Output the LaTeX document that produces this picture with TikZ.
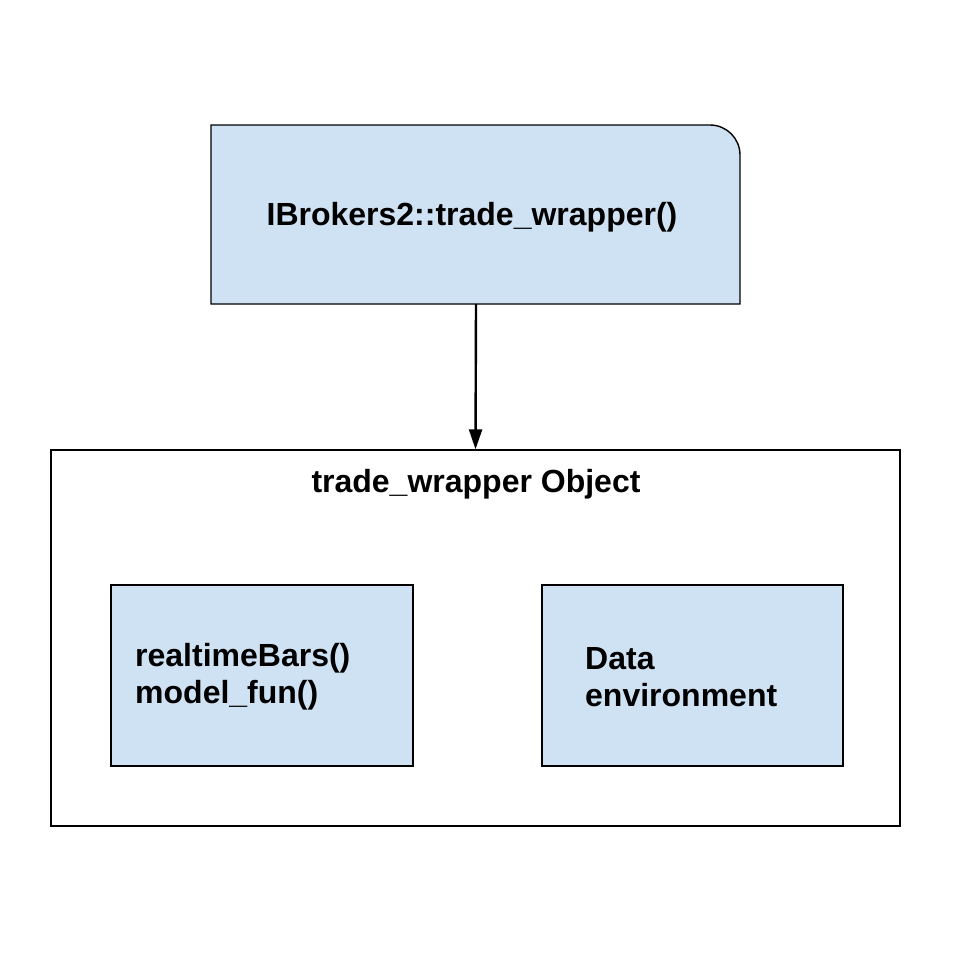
\documentclass[tikz,border=0pt]{standalone}
\usepackage{fontspec}
\setmainfont{Liberation Sans}
\usetikzlibrary{arrows.meta}
\definecolor{boxblue}{HTML}{CFE2F3}
\begin{document}
\begin{tikzpicture}[x=1pt,y=-1pt,
  lbl/.style={font=\fontsize{32}{37}\selectfont\bfseries, inner sep=0pt},
  bluebox/.style={draw=black, line width=1.4pt, fill=boxblue},
  outerbox/.style={draw=black, line width=1.4pt, fill=white},
  conn/.style={draw=black, line width=2.4pt, -{Triangle[length=20pt,width=13pt]}}]
\useasboundingbox (0,0) rectangle (964,967);
% top box with one rounded corner
\draw[bluebox] (211,125) -- (710,125) .. controls (726.57,125) and (740,138.43) .. (740,155) -- (740,304) -- (211,304) -- cycle;
\node[lbl] (top) at (472,217) {IBrokers2::trade\_wrapper()};
\coordinate (topbot) at (476,304);
% outer box
\node[outerbox, minimum width=849pt, minimum height=376pt, inner sep=0pt] (outer) at (475.5,638) {};
\node[lbl] (title) at (476,484) {trade\_wrapper Object};
\draw[conn] (topbot) -- (outer.north);
% inner boxes
\node[bluebox, minimum width=302pt, minimum height=181pt, inner sep=0pt] (left) at (262,675.5) {};
\node[bluebox, minimum width=301pt, minimum height=181pt, inner sep=0pt] (right) at (692.5,675.5) {};
\node[lbl, align=left, anchor=west] (lefttext) at (135,677) {realtimeBars()\\model\_fun()};
\node[lbl, align=left, anchor=west] (righttext) at (585,677) {Data\\environment};
\end{tikzpicture}
\end{document}
